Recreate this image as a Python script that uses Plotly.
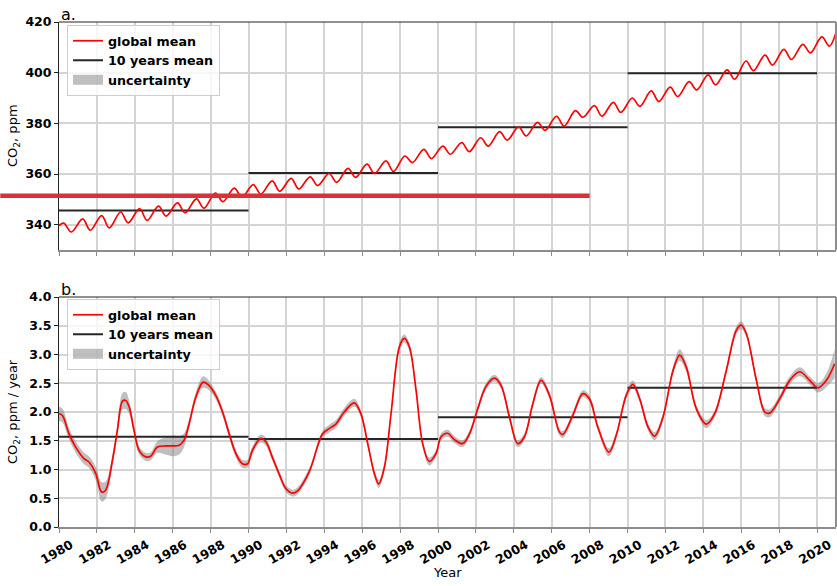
import plotly.graph_objects as go

# ---------------- data ----------------
# (a) global mean CO2, ppm: yearly spring maximum and late-summer minimum
years = list(range(1980, 2021))
peak_ppm = [340.6, 342.3, 343.6, 345.0, 346.3, 347.3, 348.6, 350.2, 352.5, 354.4,
            355.8, 357.3, 358.3, 358.9, 360.2, 362.2, 363.9, 365.2, 367.1, 369.7,
            371.0, 372.4, 374.3, 376.7, 378.6, 380.4, 382.8, 385.0, 387.0, 388.3,
            390.0, 392.8, 394.3, 396.5, 399.1, 401.1, 404.6, 406.9, 409.2, 411.2, 414.1]
trough_ppm = [337.1, 337.8, 338.7, 340.7, 341.7, 343.4, 344.7, 346.5, 349.1, 350.8,
              352.1, 353.2, 354.1, 355.4, 356.7, 358.7, 360.2, 361.0, 364.5, 366.1,
              367.8, 368.8, 371.0, 373.4, 375.0, 377.2, 378.9, 382.4, 382.8, 384.3,
              386.7, 388.6, 390.6, 393.2, 395.2, 397.4, 400.8, 403.0, 405.2, 407.8, 410.5]
peak_phase, trough_phase = 0.25, 0.65      # fraction of the year of max / min
first_point = (1980.0, 339.6)
last_point = (2020.98, 415.4)
ppm_uncert = 0.1                            # half-width of the ppm band

# (b) CO2 growth rate, ppm / year, with half-width of uncertainty band
rate_year = [1980.00, 1980.18, 1980.53, 1980.88, 1981.32, 1981.58, 1981.94, 1982.25, 1982.46,
             1982.82, 1983.08, 1983.35, 1983.52, 1983.70, 1983.96, 1984.23, 1984.58, 1984.84,
             1985.19, 1985.63, 1985.99, 1986.34, 1986.60, 1986.87, 1987.22, 1987.61, 1987.92,
             1988.27, 1988.63, 1988.98, 1989.33, 1989.68, 1989.95, 1990.20, 1990.65, 1990.92,
             1991.25, 1991.62, 1991.97, 1992.32, 1992.59, 1993.20, 1993.91, 1994.26, 1994.61,
             1995.05, 1995.58, 1995.93, 1996.29, 1996.64, 1996.87, 1997.17, 1997.52, 1997.96,
             1998.22, 1998.49, 1998.84, 1999.19, 1999.54, 1999.90, 2000.16, 2000.51, 2000.86,
             2001.30, 2001.66, 2002.10, 2002.54, 2002.98, 2003.33, 2003.77, 2004.21, 2004.56,
             2005.00, 2005.44, 2005.88, 2006.41, 2006.59, 2007.11, 2007.64, 2007.99, 2008.43,
             2009.02, 2009.40, 2009.93, 2010.28, 2010.64, 2011.08, 2011.43, 2011.87, 2012.40,
             2012.75, 2013.10, 2013.63, 2014.16, 2014.60, 2015.21, 2015.74, 2016.00, 2016.27,
             2016.80, 2017.24, 2017.50, 2018.03, 2018.56, 2019.09, 2019.61, 2020.05, 2020.49,
             2020.93]
rate_val = [1.97, 1.94, 1.62, 1.39, 1.19, 1.13, 0.93, 0.61, 0.64,
            1.16, 1.68, 2.19, 2.20, 2.09, 1.68, 1.33, 1.22, 1.23,
            1.39, 1.41, 1.41, 1.42, 1.51, 1.80, 2.26, 2.52, 2.46,
            2.29, 2.00, 1.62, 1.28, 1.10, 1.10, 1.33, 1.54, 1.48,
            1.22, 0.92, 0.67, 0.59, 0.63, 0.96, 1.62, 1.71, 1.79,
            2.00, 2.16, 1.97, 1.45, 0.93, 0.75, 1.04, 1.97, 3.13,
            3.28, 3.13, 2.38, 1.45, 1.14, 1.28, 1.57, 1.63, 1.52,
            1.45, 1.62, 2.06, 2.45, 2.59, 2.46, 1.91, 1.45, 1.57,
            2.14, 2.55, 2.29, 1.65, 1.61, 1.94, 2.32, 2.23, 1.74,
            1.30, 1.59, 2.29, 2.48, 2.23, 1.74, 1.58, 1.91, 2.72,
            2.99, 2.78, 2.06, 1.79, 1.97, 2.72, 3.42, 3.51, 3.36,
            2.55, 2.00, 1.98, 2.23, 2.55, 2.70, 2.55, 2.42, 2.55,
            2.84]
rate_err = [0.12, 0.12, 0.10, 0.10, 0.10, 0.10, 0.12, 0.17, 0.15,
            0.10, 0.10, 0.14, 0.15, 0.12, 0.08, 0.07, 0.07, 0.07,
            0.10, 0.15, 0.18, 0.16, 0.12, 0.08, 0.08, 0.10, 0.08,
            0.07, 0.07, 0.07, 0.07, 0.07, 0.07, 0.07, 0.07, 0.07,
            0.06, 0.06, 0.06, 0.06, 0.06, 0.06, 0.06, 0.07, 0.07,
            0.07, 0.07, 0.06, 0.06, 0.06, 0.07, 0.06, 0.06, 0.07,
            0.07, 0.07, 0.06, 0.06, 0.07, 0.06, 0.06, 0.06, 0.06,
            0.06, 0.06, 0.06, 0.06, 0.06, 0.06, 0.06, 0.06, 0.06,
            0.06, 0.06, 0.06, 0.06, 0.06, 0.06, 0.06, 0.06, 0.06,
            0.07, 0.06, 0.06, 0.07, 0.06, 0.06, 0.07, 0.06, 0.07,
            0.10, 0.08, 0.06, 0.07, 0.06, 0.06, 0.07, 0.07, 0.06,
            0.06, 0.07, 0.07, 0.06, 0.07, 0.08, 0.07, 0.08, 0.12,
            0.25]

# decade means
decade_start = [1980, 1990, 2000, 2010]
ppm_decade_mean = [345.6, 360.4, 378.5, 399.8]
rate_decade_mean = [1.57, 1.53, 1.91, 2.42]

# reference level marked across panel (a)
ref_ppm = 351.4
ref_span = (1976.9, 2008.0)

# ---------------- build series ----------------
t_ppm = [first_point[0]]
v_ppm = [first_point[1]]
for yr, p, tr in zip(years, peak_ppm, trough_ppm):
    t_ppm += [yr + peak_phase, yr + trough_phase]
    v_ppm += [p, tr]
t_ppm.append(last_point[0])
v_ppm.append(last_point[1])


def decade_lines(means):
    xs, ys = [], []
    for d, m in zip(decade_start, means):
        xs += [d, d + 10, None]
        ys += [m, m, None]
    return xs, ys


X_RANGE = [1980, 2021]
FONT = "DejaVu Sans"
RED = "#ff0000"
MEAN_COLOR = "#262626"
BAND = "rgba(128,128,128,0.5)"
SMOOTH = dict(shape="spline", smoothing=1.0)

fig = go.Figure()


def add_panel(xa, ya, legend, t, v, err, means):
    lo = [a - b for a, b in zip(v, err)]
    hi = [a + b for a, b in zip(v, err)]
    # uncertainty band (lower edge, then filled upper edge)
    fig.add_trace(go.Scatter(x=t, y=lo, mode="lines", line=dict(width=0, **SMOOTH),
                             showlegend=False, hoverinfo="skip", xaxis=xa, yaxis=ya))
    fig.add_trace(go.Scatter(x=t, y=hi, mode="lines", line=dict(width=0, **SMOOTH),
                             fill="tonexty", fillcolor=BAND, showlegend=False,
                             legendgroup=legend + "unc", xaxis=xa, yaxis=ya))
    # legend swatch for the band
    fig.add_trace(go.Scatter(x=[None], y=[None], mode="lines",
                             line=dict(color=BAND, width=11), name="uncertainty",
                             legend=legend, legendgroup=legend + "unc", legendrank=3,
                             xaxis=xa, yaxis=ya))
    dx, dy = decade_lines(means)
    fig.add_trace(go.Scatter(x=dx, y=dy, mode="lines", line=dict(color=MEAN_COLOR, width=2),
                             name="10 years mean", legend=legend, legendrank=2,
                             xaxis=xa, yaxis=ya))
    fig.add_trace(go.Scatter(x=t, y=v, mode="lines",
                             line=dict(color=RED, width=1.7, **SMOOTH),
                             name="global mean", legend=legend, legendrank=1,
                             xaxis=xa, yaxis=ya))


add_panel("x", "y", "legend", t_ppm, v_ppm, [ppm_uncert] * len(v_ppm), ppm_decade_mean)
add_panel("x2", "y2", "legend2", rate_year, rate_val, rate_err, rate_decade_mean)

# ---------------- layout ----------------
W, H = 837, 586
ML, MR, MT, MB = 59, 1, 22, 59
plot_h = H - MT - MB
top_dom = [(H - MB - 250) / plot_h, 1.0]
bot_dom = [0.0, (H - MB - 297) / plot_h]

tick_font = dict(family=FONT, size=12.5, color="black", weight="bold")
common_x = dict(range=X_RANGE, tick0=1980, dtick=2, ticks="outside", ticklen=4,
                tickcolor="#8c8c8c", showgrid=True, gridcolor="#d4d4d4", gridwidth=1.5,
                showline=True, linecolor="#8c8c8c", linewidth=2, zeroline=False)
common_y = dict(ticks="outside", ticklen=4, tickcolor="#222", tickfont=tick_font,
                showgrid=True, gridcolor="#d4d4d4", gridwidth=1.5,
                showline=True, linecolor="#222", linewidth=1, zeroline=False)

legend_style = dict(font=dict(family=FONT, size=12.7, color="black", weight="bold"),
                    bgcolor="rgba(255,255,255,0.8)", bordercolor="#cccccc", borderwidth=1,
                    xanchor="left", yanchor="top", traceorder="normal")

ref_x0 = (ref_span[0] - X_RANGE[0]) / (X_RANGE[1] - X_RANGE[0])
ref_x1 = (ref_span[1] - X_RANGE[0]) / (X_RANGE[1] - X_RANGE[0])

fig.update_layout(
    width=W, height=H,
    margin=dict(l=ML, r=MR, t=MT, b=MB),
    paper_bgcolor="white", plot_bgcolor="white",
    font=dict(family=FONT, size=12, color="black"),
    xaxis=dict(anchor="y", domain=[0, 1], showticklabels=False, **common_x),
    yaxis=dict(anchor="x", domain=top_dom, range=[330, 420], tick0=340, dtick=20, **common_y),
    xaxis2=dict(anchor="y2", domain=[0, 1], showticklabels=True, tickangle=-30,
                tickfont=tick_font, ticklabelshift=12, ticklabeloverflow="allow",
                **common_x),
    yaxis2=dict(anchor="x2", domain=bot_dom, range=[0, 4], tick0=0, dtick=0.5,
                tickformat=".1f", **common_y),
    legend=dict(x=(67 - ML) / (W - ML - MR), y=(H - MB - 25) / plot_h, **legend_style),
    legend2=dict(x=(67 - ML) / (W - ML - MR), y=(H - MB - 299) / plot_h, **legend_style),
    showlegend=True,
)

# frame: thin dark top edge, grey right edge
for xr, yr in (("x domain", "y domain"), ("x2 domain", "y2 domain")):
    fig.add_shape(type="line", xref=xr, yref=yr, x0=0, x1=1, y0=1, y1=1,
                  line=dict(color="#222", width=1))
    fig.add_shape(type="line", xref=xr, yref=yr, x0=1, x1=1, y0=0, y1=1,
                  line=dict(color="#8c8c8c", width=2))

# reference level across panel (a)
fig.add_shape(type="line", xref="paper", yref="y", x0=ref_x0, x1=ref_x1,
              y0=ref_ppm, y1=ref_ppm, line=dict(color="#d6323a", width=4.5), layer="above")

# panel letters and axis titles
for label, dom in (("a.", top_dom), ("b.", bot_dom)):
    fig.add_annotation(text=label, xref="paper", yref="paper", x=0, y=dom[1],
                       xanchor="left", yanchor="bottom", showarrow=False, yshift=-4,
                       font=dict(family=FONT, size=16))
for label, dom in (("CO<sub>2</sub>, ppm", top_dom), ("CO<sub>2</sub>, ppm / year", bot_dom)):
    fig.add_annotation(text=label, xref="paper", yref="paper", x=0, y=sum(dom) / 2,
                       xanchor="center", yanchor="middle", xshift=-46, textangle=-90,
                       showarrow=False, font=dict(family=FONT, size=13))
fig.add_annotation(text="Year", xref="paper", yref="paper", x=0.5, y=0, yshift=-45,
                   xanchor="center", yanchor="middle", showarrow=False,
                   font=dict(family=FONT, size=13))

fig.write_html("out.html")
